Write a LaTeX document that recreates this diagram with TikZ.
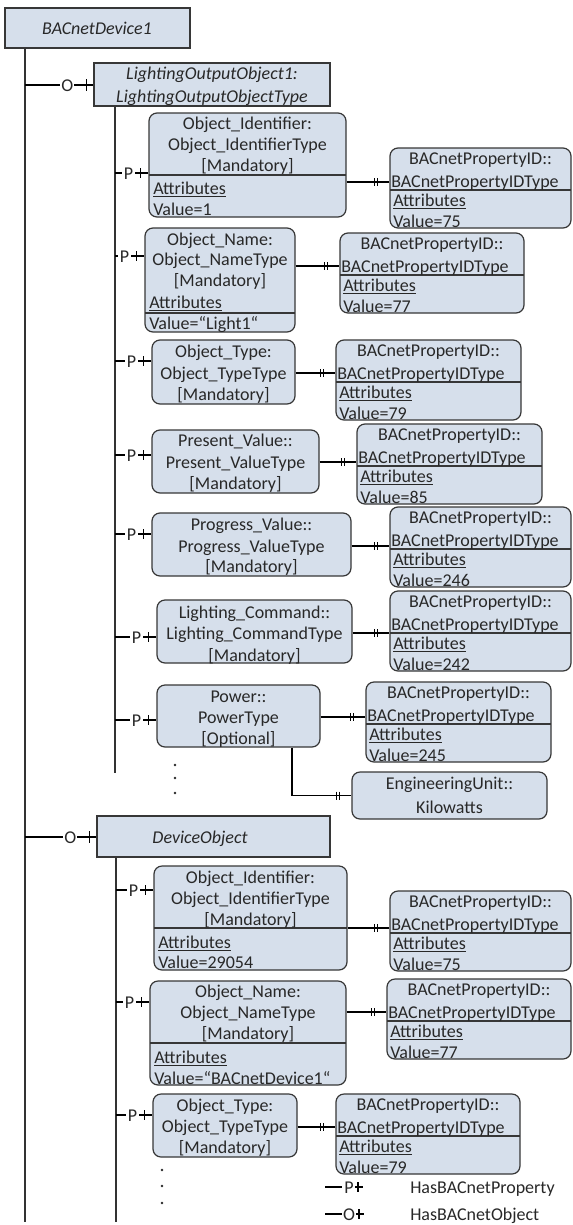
\documentclass[tikz,border=0pt]{standalone}
\usepackage{fontspec}
\setmainfont{Carlito}
\usetikzlibrary{fit,calc}
\definecolor{boxfill}{RGB}{214,223,235}
\definecolor{boxline}{RGB}{55,55,55}
\definecolor{txtcol}{RGB}{40,40,40}
\tikzset{
  bx/.style={draw=boxline, fill=boxfill, line width=0.9pt, inner sep=0pt, rounded corners=6pt},
  sq/.style={draw=boxline, fill=boxfill, line width=0.9pt, inner sep=0pt},
  tx/.style={inner sep=0pt, text height=9pt, text depth=0pt, text=txtcol},
  ln/.style={line width=0.8pt, black},
  trunk/.style={line width=1pt, black!80},
  sepl/.style={line width=0.9pt, boxline},
  dot/.style={fill=txtcol}
}
% P / O connector from trunk x (#1) at y (#2) to box (#3)
\newcommand\mkP[3]{%
  \coordinate (pe) at (#3.west |- 0,#2);
  \draw[ln] (#1,#2) -- ($(pe)+(-26,0)$);
  \node[tx] at ($(pe)+(-20,0)$) {P};
  \draw[ln] ($(pe)+(-13,0)$) -- (pe);
  \draw[ln] ($(pe)+(-8,-5)$) -- ($(pe)+(-8,5)$);
}
\newcommand\mkO[3]{%
  \coordinate (pe) at (#3.west |- 0,#2);
  \draw[ln] (#1,#2) -- ($(pe)+(-33,0)$);
  \node[tx] at ($(pe)+(-26,0)$) {O};
  \draw[ln] ($(pe)+(-19,0)$) -- (pe);
  \draw[ln] ($(pe)+(-7,-6)$) -- ($(pe)+(-7,6)$);
}
% double tick connector from box #1 to box #2 at y #3
\newcommand\mkD[3]{%
  \coordinate (da) at (#1.east |- 0,#3);
  \coordinate (db) at (#2.west |- 0,#3);
  \draw[ln] (da) -- (db);
  \draw[ln] ($(db)+(-15,-4)$) -- ($(db)+(-15,4)$);
  \draw[ln] ($(db)+(-12,-4)$) -- ($(db)+(-12,4)$);
}
% BACnetPropertyID box: name, left, top, right, value
\newcommand\mkBid[5]{%
  \node[bx, fit={(#2,#3)(#4,#3+80)}] (#1) {};
  \draw[sepl] (#2,#3+42) -- (#4,#3+42);
  \node[tx] at ({(#2+#4)/2},#3+10) {BACnetPropertyID::};
  \node[tx,anchor=west] at (#2+1,#3+33) {BACnetPropertyIDType};
  \node[tx,anchor=west] at (#2+3,#3+52) {\underline{Attributes}};
  \node[tx,anchor=west] at (#2+3,#3+73) {Value=#5};
}
\begin{document}
\begin{tikzpicture}[x=0.75pt,y=-0.75pt,font=\fontsize{13.5}{16}\selectfont]
\useasboundingbox (0,0) rectangle (572,1225);

% ---------- device ----------
\node[sq, fit={(5,8)(190,48)}] (dev) {};
\node[tx] at (97,28) {\itshape BACnetDevice1};
\draw[trunk] (dev.south -| 25,0) -- (25,1222);

% ---------- LightingOutputObject1 ----------
\node[sq, fit={(94,63)(330,106)}] (loo) {};
\node[tx] at (212,73) {\itshape LightingOutputObject1:};
\node[tx] at (212,96) {\itshape LightingOutputObjectType};
\mkO{25}{85}{loo}
\draw[trunk] (loo.south -| 115,0) -- (115,773);

% P1 Object_Identifier
\node[bx, fit={(149,113)(346,217)}] (p1) {};
\draw[sepl] (149,175) -- (346,175);
\node[tx] at (247.5,123) {Object\_Identifier:};
\node[tx] at (247.5,144) {Object\_IdentifierType};
\node[tx] at (247.5,165) {[Mandatory]};
\node[tx,anchor=west] at (153,188) {\underline{Attributes}};
\node[tx,anchor=west] at (153,209) {Value=1};
\mkP{115}{173}{p1}
\mkBid{b1}{390}{148}{571}{75}
\mkD{p1}{b1}{182}

% P2 Object_Name
\node[bx, fit={(145,228)(295,332)}] (p2) {};
\draw[sepl] (145,313) -- (295,313);
\node[tx] at (220,239) {Object\_Name:};
\node[tx] at (220,259) {Object\_NameType};
\node[tx] at (220,280) {[Mandatory]};
\node[tx,anchor=west] at (149,302) {\underline{Attributes}};
\node[tx,anchor=west] at (149,323) {Value=“Light1“};
\mkP{115}{256}{p2}
\mkBid{b2}{340}{233}{524}{77}
\mkD{p2}{b2}{266}

% P3 Object_Type
\node[bx, fit={(152,340)(295,404)}] (p3) {};
\node[tx] at (223.5,351) {Object\_Type:};
\node[tx] at (223.5,373) {Object\_TypeType};
\node[tx] at (223.5,394) {[Mandatory]};
\mkP{115}{361}{p3}
\mkBid{b3}{336}{340}{521}{79}
\mkD{p3}{b3}{373}

% P4 Present_Value
\node[bx, fit={(152,430)(319,493)}] (p4) {};
\node[tx] at (235.5,440) {Present\_Value::};
\node[tx] at (235.5,462) {Present\_ValueType};
\node[tx] at (235.5,483) {[Mandatory]};
\mkP{115}{455}{p4}
\mkBid{b4}{357}{424}{542}{85}
\mkD{p4}{b4}{462}

% P5 Progress_Value
\node[bx, fit={(152,513)(351,576)}] (p5) {};
\node[tx] at (251.5,524) {Progress\_Value::};
\node[tx] at (251.5,546) {Progress\_ValueType};
\node[tx] at (251.5,566) {[Mandatory]};
\mkP{115}{534}{p5}
\mkBid{b5}{390}{507}{571}{246}
\mkD{p5}{b5}{546}

% P6 Lighting_Command
\node[bx, fit={(157,600)(352,663)}] (p6) {};
\node[tx] at (254.5,612) {Lighting\_Command::};
\node[tx] at (254.5,633) {Lighting\_CommandType};
\node[tx] at (254.5,655) {[Mandatory]};
\mkP{115}{637}{p6}
\mkBid{b6}{390}{591}{571}{242}
\mkD{p6}{b6}{633}

% P7 Power
\node[bx, fit={(157,685)(320,747)}] (p7) {};
\node[tx] at (238.5,696) {Power::};
\node[tx] at (238.5,717) {PowerType};
\node[tx] at (238.5,738) {[Optional]};
\mkP{115}{720}{p7}
\mkBid{b7}{366}{682}{551}{245}
\mkD{p7}{b7}{717}

% Engineering unit
\node[bx, fit={(352,772)(547,819)}] (eu) {};
\node[tx] at (449.5,783) {EngineeringUnit::};
\node[tx] at (449.5,807) {Kilowatts};
\draw[ln] (p7.south -| 292,0) |- (eu.west);
\draw[ln] ($(eu.west)+(-15,-4)$) -- ($(eu.west)+(-15,4)$);
\draw[ln] ($(eu.west)+(-12,-4)$) -- ($(eu.west)+(-12,4)$);

\fill[dot] (175,765) circle[radius=1pt];
\fill[dot] (175,778) circle[radius=1pt];
\fill[dot] (175,793) circle[radius=1pt];

% ---------- DeviceObject ----------
\node[sq, fit={(97,816)(330,857)}] (dob) {};
\node[tx] at (200,837) {\itshape DeviceObject};
\mkO{25}{837}{dob}
\draw[trunk] (dob.south -| 116,0) -- (116,1222);

% D1
\node[bx, fit={(154,866)(347,970)}] (d1) {};
\draw[sepl] (154,928) -- (347,928);
\node[tx] at (250.5,877) {Object\_Identifier:};
\node[tx] at (250.5,898) {Object\_IdentifierType};
\node[tx] at (250.5,919) {[Mandatory]};
\node[tx,anchor=west] at (158,942) {\underline{Attributes}};
\node[tx,anchor=west] at (158,962) {Value=29054};
\mkP{116}{890}{d1}
\mkBid{e1}{390}{891}{571}{75}
\mkD{d1}{e1}{928}

% D2
\node[bx, fit={(150,981)(346,1085)}] (d2) {};
\draw[sepl] (150,1043) -- (346,1043);
\node[tx] at (248,991) {Object\_Name:};
\node[tx] at (248,1012) {Object\_NameType};
\node[tx] at (248,1033) {[Mandatory]};
\node[tx,anchor=west] at (154,1057) {\underline{Attributes}};
\node[tx,anchor=west] at (154,1078) {Value=“BACnetDevice1“};
\mkP{116}{1002}{d2}
\mkBid{e2}{387}{979}{571}{77}
\mkD{d2}{e2}{1012}

% D3
\node[bx, fit={(153,1094)(297,1157)}] (d3) {};
\node[tx] at (225,1105) {Object\_Type:};
\node[tx] at (225,1126) {Object\_TypeType};
\node[tx] at (225,1147) {[Mandatory]};
\mkP{116}{1115}{d3}
\mkBid{e3}{336}{1094}{520}{79}
\mkD{d3}{e3}{1127}

\fill[dot] (162,1170) circle[radius=1pt];
\fill[dot] (162,1186) circle[radius=1pt];
\fill[dot] (162,1203) circle[radius=1pt];

% ---------- legend ----------
\draw[ln] (325,1187) -- (342,1187);
\node[tx] (lp) at (349,1187) {P};
\draw[ln] (355,1187) -- (363,1187);
\draw[ln] (358,1182) -- (358,1192);
\node[tx,anchor=west] (lpt) at (410,1187) {HasBACnetProperty};
\draw[ln] (325,1214) -- (342,1214);
\node[tx] (lo) at (349,1214) {O};
\draw[ln] (356,1214) -- (364,1214);
\draw[ln] (359,1209) -- (359,1219);
\node[tx,anchor=west] (lot) at (410,1214) {HasBACnetObject};
\end{tikzpicture}
\end{document}
